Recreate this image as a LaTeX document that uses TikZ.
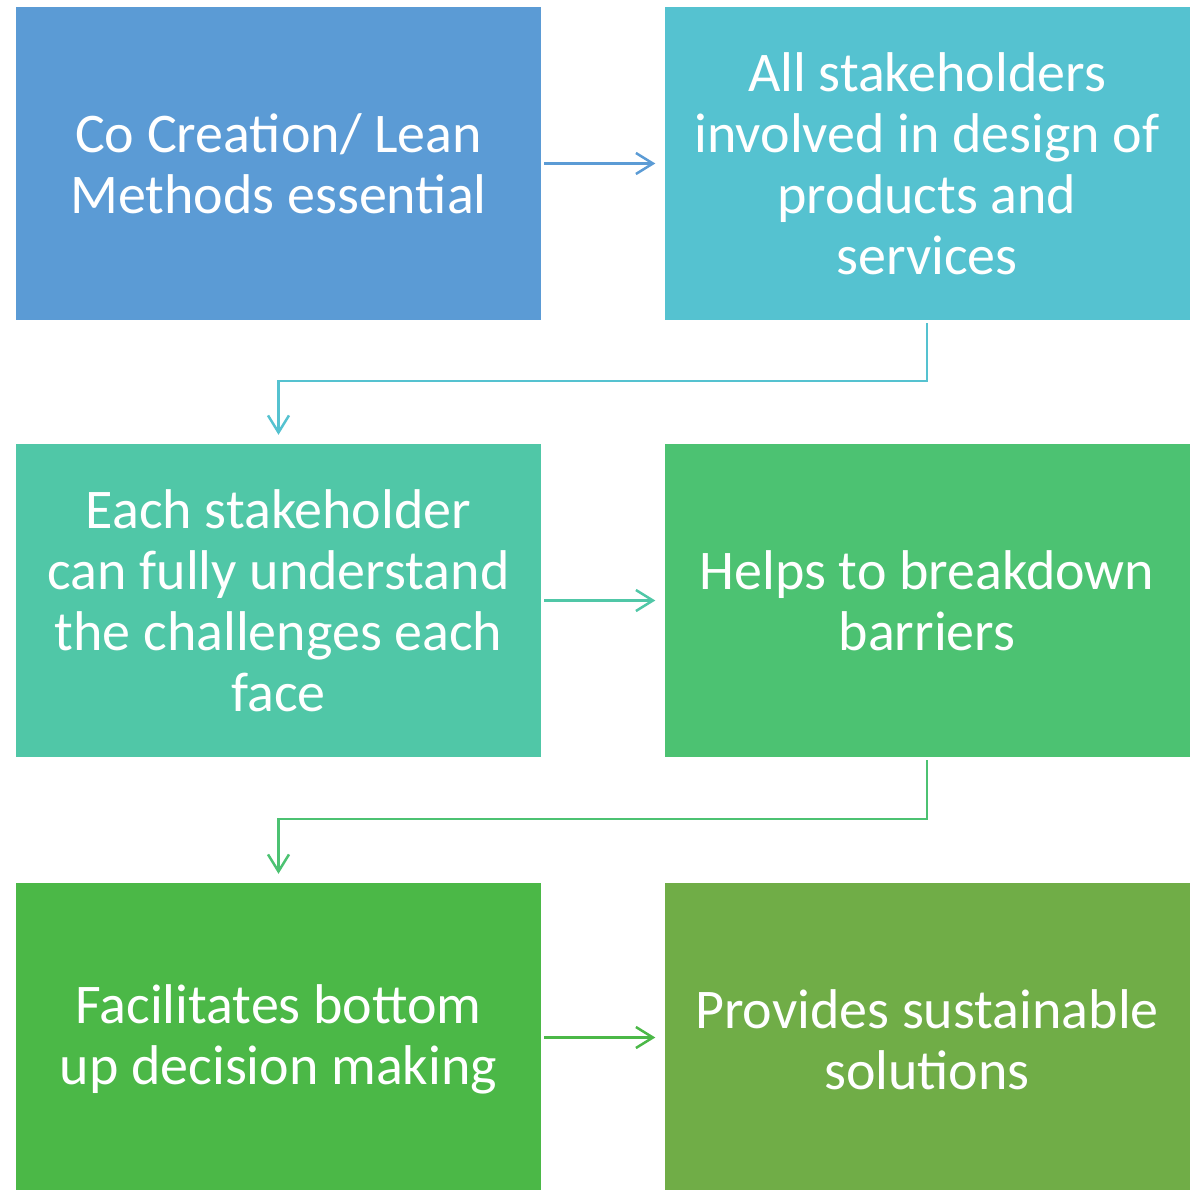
\documentclass[tikz,border=0pt]{standalone}
\usepackage{fontspec}
\setmainfont{Carlito}
\usetikzlibrary{arrows.meta}
\definecolor{boxa}{HTML}{5B9BD5}
\definecolor{boxb}{HTML}{55C2D0}
\definecolor{boxc}{HTML}{50C7A7}
\definecolor{boxd}{HTML}{4CC272}
\definecolor{boxe}{HTML}{4BB847}
\definecolor{boxf}{HTML}{70AD47}
\begin{document}
\begin{tikzpicture}[x=1pt, y=1pt, >={Straight Barb[length=17pt,width=21pt]},
    box/.style={draw=none, text=white, minimum width=525pt, minimum height=313pt,
                inner sep=0pt, align=center, font=\fontsize{56}{61}\selectfont},
    link/.style={->, line width=2.5pt}]
    \useasboundingbox (0,0) rectangle (1197,-1190);
    \node[box, fill=boxa] (b1) at (278.5,-163.5) {Co Creation/ Lean\\Methods essential};
    \node[box, fill=boxb] (b2) at (927,-163.5) {All stakeholders\\involved in design of\\products and\\services};
    \node[box, fill=boxc] (b3) at (278.5,-600.5) {Each stakeholder\\can fully understand\\the challenges each\\face};
    \node[box, fill=boxd] (b4) at (927,-600.5) {Helps to breakdown\\barriers};
    \node[box, fill=boxe] (b5) at (278.5,-1039.5) {Facilitates bottom\\up decision making};
    \node[box, fill=boxf] (b6) at (927,-1039.5) {Provides sustainable\\solutions};
    \draw[link, boxa] ([xshift=3pt]b1.east) -- ([xshift=-9pt]b2.west);
    \draw[link, boxb] ([yshift=-3pt]b2.south) -- ++(0,-58) -| ([yshift=9pt]b3.north);
    \draw[link, boxc] ([xshift=3pt]b3.east) -- ([xshift=-9pt]b4.west);
    \draw[link, boxd] ([yshift=-3pt]b4.south) -- ++(0,-59) -| ([yshift=9pt]b5.north);
    \draw[link, boxe] ([xshift=3pt,yshift=2pt]b5.east) -- ([xshift=-9pt,yshift=2pt]b6.west);
\end{tikzpicture}
\end{document}
